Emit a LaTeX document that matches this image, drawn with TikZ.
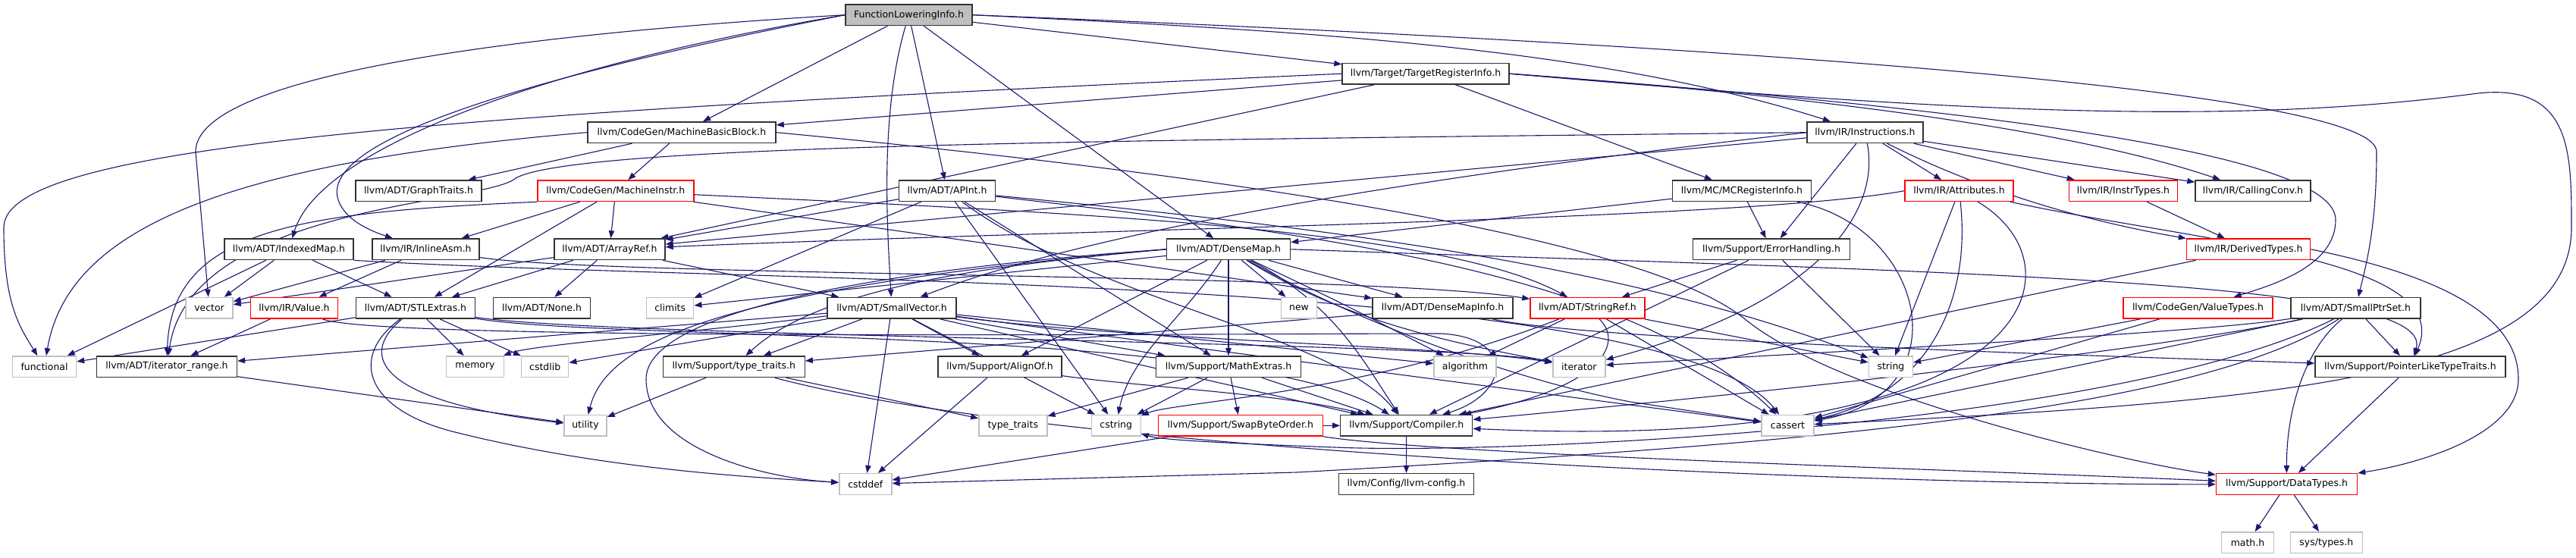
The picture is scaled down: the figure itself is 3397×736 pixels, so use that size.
\documentclass[tikz,border=0pt]{standalone}
\usepackage{fontspec}
\setmainfont{DejaVu Sans}
\usepackage{tikz}
\usetikzlibrary{arrows.meta,backgrounds}
\definecolor{edgeblue}{HTML}{191970}

\begin{document}
\begin{tikzpicture}[
    x=1bp,y=-1bp,>={Triangle[length=10bp,width=7.5bp]},
    hdr/.style={draw=black!80,line width=1.4bp,fill=white,minimum height=27.7bp,
      inner xsep=8bp,inner ysep=0pt,font=\fontsize{12.5}{13}\selectfont},
    sysinc/.style={hdr,draw=black!25},
    trunc/.style={hdr,draw=red},
    root/.style={hdr,fill=black!25},
    dep/.style={->,draw=edgeblue,line width=1.1bp}
  ]
  \useasboundingbox (0,0) rectangle (3397,736);
  \node[root,minimum width=167bp] (fli) at (1198.5,19.7) {FunctionLoweringInfo.h};
  \node[hdr,minimum width=220bp] (tri) at (1880,97.2) {llvm/Target/TargetRegisterInfo.h};
  \node[hdr,minimum width=248bp] (mbb) at (899,174.7) {llvm/CodeGen/MachineBasicBlock.h};
  \node[hdr,minimum width=153bp] (instr) at (2459.5,174.7) {llvm/IR/Instructions.h};
  \node[hdr,minimum width=166bp] (gtraits) at (552,251.7) {llvm/ADT/GraphTraits.h};
  \node[trunc,minimum width=206bp] (minstr) at (811.8,251.7) {llvm/CodeGen/MachineInstr.h};
  \node[hdr,minimum width=127bp] (apint) at (1249,251.7) {llvm/ADT/APInt.h};
  \node[hdr,minimum width=183bp] (mcreg) at (2297,251.7) {llvm/MC/MCRegisterInfo.h};
  \node[trunc,minimum width=143bp] (attr) at (2583.5,251.7) {llvm/IR/Attributes.h};
  \node[trunc,minimum width=143bp] (instrtypes) at (2800,251.7) {llvm/IR/InstrTypes.h};
  \node[hdr,minimum width=152bp] (cconv) at (2971,251.7) {llvm/IR/CallingConv.h};
  \node[hdr,minimum width=170bp] (imap) at (381,328.8) {llvm/ADT/IndexedMap.h};
  \node[hdr,minimum width=141bp] (iasm) at (561.5,328.8) {llvm/IR/InlineAsm.h};
  \node[hdr,minimum width=146bp] (arref) at (804,328.8) {llvm/ADT/ArrayRef.h};
  \node[hdr,minimum width=163bp] (dmap) at (1620,328.8) {llvm/ADT/DenseMap.h};
  \node[hdr,minimum width=207bp] (errh) at (2336,328.8) {llvm/Support/ErrorHandling.h};
  \node[trunc,minimum width=163bp] (dertypes) at (2965,328.8) {llvm/IR/DerivedTypes.h};
  \node[sysinc,minimum width=62bp] (vector) at (276,406.3) {vector};
  \node[trunc,minimum width=115bp] (value) at (388,406.3) {llvm/IR/Value.h};
  \node[hdr,minimum width=157bp] (stlx) at (548,406.3) {llvm/ADT/STLExtras.h};
  \node[hdr,minimum width=128bp] (none) at (714.5,406.3) {llvm/ADT/None.h};
  \node[sysinc,minimum width=62bp] (climits) at (883.7,406.3) {climits};
  \node[hdr,minimum width=170bp] (svec) at (1176,406.3) {llvm/ADT/SmallVector.h};
  \node[sysinc,minimum width=47bp] (new) at (1713,406.3) {new};
  \node[hdr,minimum width=185bp] (dmapinfo) at (1902.5,406.3) {llvm/ADT/DenseMapInfo.h};
  \node[trunc,minimum width=151bp] (sref) at (2093.4,406.3) {llvm/ADT/StringRef.h};
  \node[trunc,minimum width=197bp] (vtypes) at (2898.5,406.3) {llvm/CodeGen/ValueTypes.h};
  \node[hdr,minimum width=171bp] (sptr) at (3106.4,406.3) {llvm/ADT/SmallPtrSet.h};
  \node[sysinc,minimum width=84bp] (functional) at (58.5,483.7) {functional};
  \node[hdr,minimum width=185bp] (itrange) at (220,483.7) {llvm/ADT/iterator\_range.h};
  \node[sysinc,minimum width=76bp] (memory) at (626.5,483.7) {memory};
  \node[sysinc,minimum width=62bp] (cstdlib) at (718.7,483.7) {cstdlib};
  \node[hdr,minimum width=187bp] (tth) at (967.7,483.7) {llvm/Support/type\_traits.h};
  \node[hdr,minimum width=163bp] (alignof) at (1318.5,483.7) {llvm/Support/AlignOf.h};
  \node[hdr,minimum width=191bp] (mathx) at (1620,483.7) {llvm/Support/MathExtras.h};
  \node[sysinc,minimum width=82bp] (algorithm) at (1932,483.7) {algorithm};
  \node[sysinc,minimum width=69bp] (iterator) at (2082.4,483.7) {iterator};
  \node[sysinc,minimum width=58bp] (string) at (2493.4,483.7) {string};
  \node[hdr,minimum width=251bp] (pltt) at (3178.4,483.7) {llvm/Support/PointerLikeTypeTraits.h};
  \node[sysinc,minimum width=56bp] (utility) at (772,561.3) {utility};
  \node[sysinc,minimum width=90bp] (stdtt) at (1335.8,561.3) {type\_traits};
  \node[sysinc,minimum width=65bp] (cstring) at (1471.7,561.3) {cstring};
  \node[trunc,minimum width=217bp] (swapbo) at (1635.8,561.3) {llvm/Support/SwapByteOrder.h};
  \node[hdr,minimum width=174bp] (compiler) at (1854.7,561.3) {llvm/Support/Compiler.h};
  \node[sysinc,minimum width=69bp] (cassert) at (2357.5,561.3) {cassert};
  \node[sysinc,minimum width=69bp] (cstddef) at (1141.3,638.5) {cstddef};
  \node[hdr,minimum width=178bp] (llvmcfg) at (1854.5,638.5) {llvm/Config/llvm-config.h};
  \node[trunc,minimum width=186bp] (dtypes) at (3015.5,638.5) {llvm/Support/DataTypes.h};
  \node[sysinc,minimum width=69bp] (mathh) at (2964,715.7) {math.h};
  \node[sysinc,minimum width=95bp] (systypes) at (3067.8,715.7) {sys/types.h};
  \begin{scope}[on background layer]
    \fill[white] (0,0) rectangle (3397,736);
    \draw[dep] (fli.west) .. controls (600,50) and (258,110) .. (258,200) -- (vector);
    \draw[dep] (fli.west) .. controls (700,90) and (420,200) .. (imap);
    \draw[dep] (fli.west) .. controls (650,110) and (430,190) .. (445,260) .. controls (452,290) and (490,305) .. (iasm);
    \draw[dep] (fli) -- (mbb);
    \draw[dep] (fli) -- (apint);
    \draw[dep] (fli) .. controls (1160,150) and (1170,300) .. (svec);
    \draw[dep] (fli) -- (dmap);
    \draw[dep] (fli) -- (tri);
    \draw[dep] (fli.east) .. controls (1700,40) and (2100,60) .. (instr);
    \draw[dep] (fli.east) .. controls (2300,60) and (3134,120) .. (3134,200) .. controls (3134,300) and (3120,350) .. (sptr);
    \draw[dep] (tri) -- (mbb);
    \draw[dep] (tri) -- (arref);
    \draw[dep] (tri) -- (mcreg);
    \draw[dep] (tri.east) .. controls (2300,120) and (2700,160) .. (cconv);
    \draw[dep] (tri.west) .. controls (600,150) and (5,190) .. (5,300) .. controls (5,400) and (25,430) .. (functional);
    \draw[dep] (tri.east) .. controls (2700,150) and (3080,210) .. (3080,290) .. controls (3080,350) and (3000,375) .. (vtypes);
    \draw[dep] (tri.east) .. controls (2600,150) and (2950,165) .. (3268,123) .. controls (3391,110) and (3391,200) .. (3391,300) .. controls (3391,500) and (3000,530) .. (cassert);
    \draw[dep] (mbb) -- (gtraits);
    \draw[dep] (mbb) -- (minstr);
    \draw[dep] (mbb.east) .. controls (1500,220) and (2150,300) .. (2300,420) .. controls (2420,520) and (2800,610) .. (dtypes);
    \draw[dep] (mbb.west) .. controls (300,215) and (90,300) .. (functional);
    \draw[dep] (instr) -- (arref);
    \draw[dep] (instr.west) .. controls (1900,230) and (1450,300) .. (svec);
    \draw[dep] (instr.west) .. controls (1500,185) and (760,190) .. (680,235) .. controls (640,270) and (250,270) .. (itrange);
    \draw[dep] (instr) -- (attr);
    \draw[dep] (instr) -- (cconv);
    \draw[dep] (instr) .. controls (2650,270) and (2800,300) .. (dertypes);
    \draw[dep] (instr) -- (instrtypes);
    \draw[dep] (instr) -- (errh);
    \draw[dep] (instr) .. controls (2480,280) and (2400,400) .. (iterator);
    \draw[dep] (minstr) -- (iasm);
    \draw[dep] (minstr) -- (arref);
    \draw[dep] (minstr) -- (stlx);
    \draw[dep] (minstr) -- (dmapinfo);
    \draw[dep] (minstr) .. controls (1400,280) and (1900,300) .. (sref);
    \draw[dep] (minstr.south west) .. controls (400,280) and (225,300) .. (itrange);
    \draw[dep] (apint) -- (arref);
    \draw[dep] (apint) -- (climits);
    \draw[dep] (apint) .. controls (1450,400) and (1760,440) .. (compiler);
    \draw[dep] (apint) -- (mathx);
    \draw[dep] (apint) .. controls (1750,310) and (2150,360) .. (cassert);
    \draw[dep] (apint) -- (cstring);
    \draw[dep] (apint) .. controls (1750,300) and (2150,350) .. (string);
    \draw[dep] (mcreg) -- (dmap);
    \draw[dep] (mcreg) -- (errh);
    \draw[dep] (mcreg) .. controls (2540,300) and (2590,520) .. (cassert);
    \draw[dep] (attr.west) .. controls (2300,290) and (1500,300) .. (arref);
    \draw[dep] (attr) -- (string);
    \draw[dep] (attr) .. controls (2600,400) and (2540,520) .. (cassert);
    \draw[dep] (attr) .. controls (2900,320) and (3240,340) .. (pltt);
    \draw[dep] (attr) .. controls (2750,350) and (2700,600) .. (compiler);
    \draw[dep] (instrtypes) -- (dertypes);
    \draw[dep] (imap) -- (stlx);
    \draw[dep] (imap.south east) .. controls (1000,375) and (2200,360) .. (cassert);
    \draw[dep] (imap) -- (functional);
    \draw[dep] (imap) -- (vector);
    \draw[dep] (iasm) -- (value);
    \draw[dep] (iasm) -- (vector);
    \draw[dep] (iasm) .. controls (800,365) and (1800,360) .. (sref);
    \draw[dep] (arref) -- (none);
    \draw[dep] (arref) -- (svec);
    \draw[dep] (arref) -- (vector);
    \draw[dep] (arref) -- (stlx);
    \draw[dep] (dmap) -- (dmapinfo);
    \draw[dep] (dmap) -- (alignof);
    \draw[dep] (dmap) .. controls (1760,400) and (1800,480) .. (compiler);
    \draw[dep] (dmap) -- (mathx);
    \draw[dep] (dmap.east) .. controls (2600,360) and (3215,370) .. (pltt);
    \draw[dep] (dmap.west) .. controls (1300,350) and (1080,380) .. (tth);
    \draw[dep] (dmap) .. controls (1770,400) .. (algorithm);
    \draw[dep] (dmap) .. controls (1780,420) and (1990,500) .. (2150,530) -- (cassert);
    \draw[dep] (dmap) -- (climits);
    \draw[dep] (dmap.west) .. controls (1100,360) and (852,420) .. (852,500) .. controls (852,590) and (1000,630) .. (cstddef);
    \draw[dep] (dmap) .. controls (1560,420) and (1490,470) .. (cstring);
    \draw[dep] (dmap) .. controls (1770,420) and (1900,450) .. (iterator);
    \draw[dep] (dmap) -- (new);
    \draw[dep] (dmap.west) .. controls (950,380) and (800,450) .. (utility);
    \draw[dep] (errh) -- (sref);
    \draw[dep] (errh) -- (compiler);
    \draw[dep] (errh) -- (string);
    \draw[dep] (dertypes) -- (compiler);
    \draw[dep] (dertypes.east) .. controls (3250,370) and (3321,430) .. (3321,500) .. controls (3321,570) and (3200,610) .. (dtypes);
    \draw[dep] (value) -- (itrange);
    \draw[dep] (value) .. controls (500,450) and (1600,440) .. (1900,440) .. controls (2000,445) and (1990,520) .. (compiler);
    \draw[dep] (stlx) .. controls (800,450) and (1650,430) .. (compiler);
    \draw[dep] (stlx) .. controls (460,470) and (480,540) .. (600,570) .. controls (800,620) and (1000,630) .. (cstddef);
    \draw[dep] (stlx) -- (cstdlib);
    \draw[dep] (stlx) -- (functional);
    \draw[dep] (stlx) .. controls (800,445) and (1900,450) .. (iterator);
    \draw[dep] (stlx) -- (memory);
    \draw[dep] (stlx) .. controls (470,470) and (500,530) .. (utility);
    \draw[dep] (svec) -- (itrange);
    \draw[dep] (svec) -- (alignof);
    \draw[dep] (svec) -- (compiler);
    \draw[dep] (svec) -- (mathx);
    \draw[dep] (svec) -- (tth);
    \draw[dep] (svec) -- (algorithm);
    \draw[dep] (svec) -- (cassert);
    \draw[dep] (svec) -- (cstddef);
    \draw[dep] (svec) -- (cstdlib);
    \draw[dep] (svec) -- (cstring);
    \draw[dep] (svec) .. controls (1500,450) and (1900,455) .. (iterator);
    \draw[dep] (svec) .. controls (900,440) and (700,455) .. (memory);
    \draw[dep] (dmapinfo) .. controls (2100,450) and (2800,470) .. (pltt);
    \draw[dep] (dmapinfo) -- (tth);
    \draw[dep] (sref) -- (algorithm);
    \draw[dep] (sref) .. controls (2140,450) and (2120,510) .. (compiler);
    \draw[dep] (sref) -- (cassert);
    \draw[dep] (sref) -- (string);
    \draw[dep] (sref) .. controls (1800,520) and (1550,530) .. (cstring);
    \draw[dep] (vtypes) -- (cassert);
    \draw[dep] (vtypes) -- (string);
    \draw[dep] (sptr) .. controls (2800,470) and (2200,530) .. (compiler);
    \draw[dep] (sptr) .. controls (3040,460) and (3015,540) .. (dtypes);
    \draw[dep] (sptr) -- (pltt);
    \draw[dep] (sptr) -- (cassert);
    \draw[dep] (sptr) .. controls (2900,540) and (2400,585) .. (1710,623) -- (cstddef);
    \draw[dep] (sptr) .. controls (2800,560) and (2000,600) .. (1760,590) .. controls (1600,584) and (1530,580) .. (cstring);
    \draw[dep] (sptr) .. controls (2900,440) and (2300,470) .. (iterator);
    \draw[dep] (itrange) -- (utility);
    \draw[dep] (tth) -- (utility);
    \draw[dep] (tth) -- (stdtt);
    \draw[dep] (tth) .. controls (1400,600) and (2500,640) .. (dtypes);
    \draw[dep] (alignof) -- (cstddef);
    \draw[dep] (alignof) .. controls (1500,510) and (1700,520) .. (compiler);
    \draw[dep] (mathx) -- (stdtt);
    \draw[dep] (mathx) -- (cstring);
    \draw[dep] (mathx) -- (swapbo);
    \draw[dep] (mathx) -- (compiler);
    \draw[dep] (pltt) -- (dtypes);
    \draw[dep] (swapbo) -- (cstddef);
    \draw[dep] (swapbo) -- (compiler);
    \draw[dep] (swapbo.south east) .. controls (1900,600) and (2600,620) .. (dtypes);
    \draw[dep] (compiler) -- (llvmcfg);
    \draw[dep] (dtypes) -- (mathh);
    \draw[dep] (dtypes) -- (systypes);
  \end{scope}
\end{tikzpicture}
\end{document}
